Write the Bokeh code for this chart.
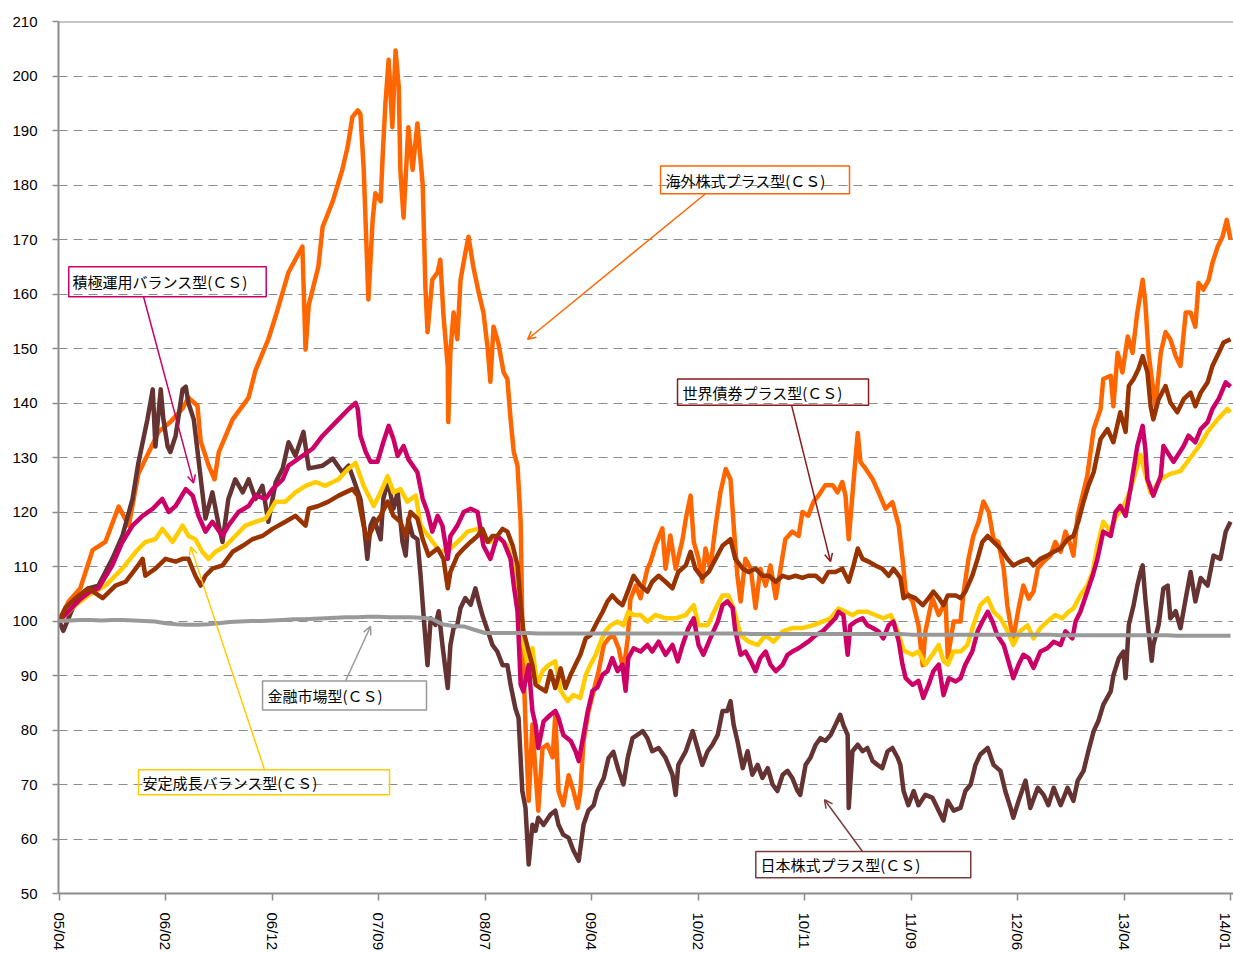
from bokeh.plotting import figure
from bokeh.models import Range1d, FixedTicker, Span, BoxAnnotation, Label, Arrow, OpenHead
from bokeh.embed import file_html
from bokeh.resources import INLINE

# ---------------- data ----------------
tick_labels = ["05/04", "06/02", "06/12", "07/09", "08/07", "09/04",
               "10/02", "10/11", "11/09", "12/06", "13/04", "14/01"]
tick_days = [0, 200, 400, 600, 800, 1000, 1200, 1400, 1600, 1800, 2000, 2200]

# business-day index of regular samples (every 20 trading days)
day = list(range(0, 2201, 20))

# 海外株式プラス型 : (trading day, value) read at irregular points
kaigai_day = [0, 18, 40, 63, 87, 112, 131, 149, 187, 209, 232, 243, 260, 266, 281, 292, 300,
              326, 356, 369, 393, 407, 431, 457, 463, 469, 487, 495, 514, 532, 542, 551, 561,
              566, 572, 581, 589, 594, 604, 608, 613, 619, 626, 632, 638, 641, 647, 656, 664,
              673, 683, 688, 692, 701, 711, 716, 722, 730, 731, 735, 741, 748, 754, 763, 769,
              778, 788, 797, 805, 810, 816, 825, 835, 842, 848, 854, 861, 867, 870, 876, 882,
              889, 895, 900, 908, 917, 927, 932, 938, 947, 957, 966, 974, 979, 985, 994, 1004,
              1013, 1023, 1032, 1041, 1051, 1060, 1068, 1073, 1083, 1092, 1105, 1111, 1120,
              1133, 1139, 1148, 1158, 1171, 1177, 1186, 1192, 1201, 1208, 1214, 1223, 1233,
              1242, 1252, 1261, 1267, 1274, 1280, 1289, 1299, 1308, 1317, 1327, 1336, 1346,
              1355, 1364, 1377, 1389, 1396, 1407, 1417, 1426, 1439, 1453, 1462, 1471, 1477,
              1483, 1492, 1500, 1505, 1515, 1528, 1539, 1552, 1565, 1577, 1584, 1590, 1603,
              1614, 1622, 1627, 1640, 1652, 1665, 1669, 1680, 1693, 1699, 1708, 1717, 1727,
              1736, 1746, 1755, 1764, 1774, 1781, 1787, 1792, 1802, 1811, 1821, 1830, 1838,
              1849, 1862, 1871, 1881, 1890, 1900, 1905, 1913, 1922, 1931, 1943, 1956, 1961,
              1975, 1980, 1988, 1997, 2007, 2016, 2025, 2035, 2040, 2046, 2054, 2059, 2069,
              2078, 2087, 2097, 2106, 2116, 2125, 2134, 2140, 2149, 2159, 2166, 2176, 2185,
              2193, 2200]
kaigai = [100, 103.6, 106, 113, 114.5, 121, 117.5, 127, 134.7, 136.5, 139, 141, 139.5, 133,
          128.5, 126, 131, 137, 141, 146, 151.7, 156, 164, 168.7, 149.8, 158, 165, 172.3, 177,
          182.8, 187, 192.5, 193.7, 193, 183.3, 159, 173.6, 178.5, 177, 185.8, 195, 203, 190.6,
          204.7, 198, 182.7, 174, 190.6, 182.8, 191.3, 180, 161.4, 153, 162.6, 164, 166.3,
          156, 146.7, 136.5, 149.5, 156.6, 151.7, 162.6, 167.5, 170.5, 165, 160.3, 156.6, 150,
          143.9, 154, 151, 145.6, 144.4, 137, 131, 128.5, 118, 99, 80.9, 67, 81, 72, 65.2,
          76.7, 77.3, 75, 82.8, 68.8, 66.2, 71.7, 68.8, 65.7, 68.8, 77.9, 83.3, 87.2, 90.7,
          95.6, 96.8, 97.4, 95, 90.8, 96.8, 104, 106.5, 104.2, 109.6, 110.9, 113.8, 117, 109.6,
          115.7, 109.6, 115, 118.7, 123, 114.5, 111.4, 107.2, 113.3, 109.6, 117.5, 123.6, 127.9,
          126, 117.5, 108.3, 103.6, 111.4, 109.6, 102.4, 109.6, 106.5, 110.2, 104.2, 109.6,
          115, 116.4, 115.6, 120, 119.3, 121.9, 123, 124.9, 124.9, 123.6, 125.5, 123, 115,
          125.5, 134.5, 129.2, 127.9, 126, 123.6, 120.6, 121.8, 117.5, 111.4, 105.4, 103.6,
          99.2, 91.9, 98.1, 104.2, 101.1, 103.6, 93.3, 99.9, 99.9, 105.4, 111.4, 115.6, 118.2,
          121.9, 120, 115, 114.5, 109.6, 102.8, 99.2, 96.8, 102.3, 106.5, 104.1, 105.4, 109.6,
          110.9, 112, 114.5, 112.7, 116.4, 113.8, 112, 119.3, 123, 126.6, 135.2, 138.9, 144.4,
          145, 139.4, 149.2, 145.6, 152.2, 149.2, 156.6, 162.6, 158.4, 149.2, 143.1, 139.4,
          149.2, 153, 151.7, 148.6, 146.8, 156.6, 156.6, 154, 162, 160.8, 162.6, 165.7, 168.7,
          170.5, 173.6, 170]

# 日本株式プラス型 : (trading day, value) read at irregular points
nihon_day = [0, 8, 31, 55, 74, 100, 119, 138, 149, 166, 176, 181, 191, 196, 204, 209, 219,
             232, 238, 243, 253, 275, 288, 300, 307, 318, 331, 345, 356, 369, 382, 393, 407,
             420, 431, 444, 459, 469, 495, 514, 532, 544, 553, 566, 572, 579, 585, 591, 604,
             609, 617, 622, 628, 636, 645, 651, 656, 664, 673, 679, 685, 692, 698, 707, 713,
             720, 730, 735, 741, 748, 754, 763, 773, 782, 788, 795, 805, 814, 823, 833, 842,
             848, 857, 863, 870, 876, 882, 889, 895, 900, 910, 923, 932, 938, 947, 957, 966,
             976, 985, 994, 1004, 1011, 1023, 1032, 1041, 1051, 1060, 1068, 1077, 1086, 1096,
             1105, 1114, 1126, 1139, 1152, 1158, 1163, 1177, 1190, 1199, 1208, 1218, 1227,
             1237, 1246, 1255, 1261, 1267, 1274, 1284, 1293, 1302, 1312, 1321, 1331, 1340,
             1349, 1359, 1368, 1377, 1387, 1392, 1402, 1411, 1421, 1430, 1439, 1449, 1458,
             1467, 1473, 1481, 1483, 1490, 1500, 1509, 1518, 1528, 1537, 1546, 1556, 1565,
             1575, 1580, 1586, 1595, 1605, 1614, 1627, 1640, 1652, 1661, 1669, 1680, 1693,
             1702, 1712, 1721, 1730, 1744, 1755, 1768, 1777, 1787, 1792, 1802, 1815, 1824,
             1838, 1849, 1858, 1868, 1881, 1894, 1905, 1913, 1924, 1933, 1943, 1952, 1961,
             1975, 1980, 1990, 1999, 2003, 2009, 2018, 2025, 2031, 2035, 2040, 2046, 2052,
             2055, 2065, 2074, 2082, 2087, 2097, 2106, 2116, 2125, 2134, 2144, 2157, 2168,
             2181, 2191, 2200]
nihon = [100, 98.2, 103.6, 106, 106.5, 111.4, 115.6, 122.4, 129, 137, 142.5, 132, 142.5, 137,
         132, 131, 134, 142.5, 143, 140, 137, 118.8, 123.6, 117.5, 114.5, 122.4, 126, 123.6,
         126, 122.4, 124.8, 118.2, 125.5, 128, 132.8, 130.3, 134.7, 128, 128.5, 129.8, 127.3,
         128.5, 126, 122.4, 118.2, 111.4, 117.5, 118.8, 115, 122.4, 125.5, 123.6, 120.6,
         123.6, 114.5, 112, 118.8, 115.6, 115, 108.3, 100.5, 91.9, 100.5, 99.3, 101.8, 95.6,
         87.7, 95.6, 98.7, 99.3, 102.4, 104.2, 103, 106, 103.6, 101.1, 98.2, 95.6, 94.4, 91.9,
         91.9, 88.3, 84, 82.2, 68.8, 65.7, 55.3, 62.6, 61.5, 63.9, 62.6, 64.5, 65.2, 62.6,
         60.8, 60.2, 57.9, 56, 62.6, 65.2, 66.2, 68.8, 71.2, 74.9, 76, 72.5, 70, 74.9, 78.5,
         79.1, 79.8, 78.5, 76.1, 76.7, 74.9, 71.8, 68.1, 73.6, 76.1, 79.8, 76.7, 73.6, 76.1,
         77.3, 79.1, 83.5, 83.5, 85.3, 80.9, 78, 73, 76.1, 71.8, 73.6, 71.2, 73, 70, 68.8,
         71.8, 72.5, 71.2, 68.8, 68.1, 73.6, 74.9, 77.3, 78.5, 78, 79.1, 80.9, 82.8, 80.9,
         79.1, 65.7, 76.1, 77.3, 76.1, 76.7, 74.3, 73.6, 73, 76.1, 76.7, 74.9, 73.6, 68.8,
         66.2, 68.8, 66.2, 68.1, 67.6, 65.2, 63.4, 67, 65.2, 65.7, 68.8, 70, 73.6, 75.5, 76.7,
         73.6, 72.5, 68.8, 65.7, 63.9, 67, 70.7, 65.7, 69.4, 68.1, 66.2, 69.4, 66.2, 69.4, 67,
         70.7, 72.5, 76.1, 79.8, 81.7, 84.6, 87.1, 90, 93.1, 94.4, 89.5, 99.3, 102.9, 106.5,
         109, 110.2, 104.2, 98.2, 92.7, 95.6, 99.3, 106, 106.5, 100.5, 101.8, 98.7, 104.2,
         109, 103.6, 107.9, 106.5, 112, 111.4, 116.4, 118.2]

# 積極運用バランス型 : (trading day, value) read at irregular points
sekkyoku_day = [0, 20, 40, 60, 74, 100, 119, 138, 157, 176, 194, 206, 219, 238, 251, 262,
                275, 288, 307, 318, 337, 356, 369, 388, 401, 420, 431, 476, 495, 525, 544,
                557, 561, 566, 576, 585, 598, 609, 619, 628, 636, 647, 656, 673, 683, 692,
                701, 711, 720, 730, 735, 748, 760, 773, 786, 797, 810, 823, 835, 848, 854,
                861, 867, 872, 882, 889, 895, 900, 910, 923, 932, 938, 947, 961, 970, 976,
                985, 993, 1002, 1011, 1021, 1030, 1039, 1049, 1058, 1064, 1069, 1079, 1092,
                1105, 1114, 1126, 1139, 1152, 1162, 1171, 1182, 1192, 1201, 1210, 1223, 1237,
                1246, 1255, 1265, 1270, 1280, 1289, 1299, 1308, 1317, 1327, 1336, 1346, 1359,
                1368, 1377, 1389, 1398, 1407, 1421, 1434, 1445, 1458, 1464, 1473, 1481, 1486,
                1496, 1509, 1518, 1528, 1539, 1548, 1558, 1567, 1577, 1584, 1590, 1603, 1614,
                1623, 1633, 1642, 1652, 1661, 1671, 1684, 1693, 1702, 1715, 1725, 1734, 1744,
                1753, 1762, 1774, 1783, 1792, 1802, 1811, 1821, 1830, 1843, 1856, 1868, 1881,
                1890, 1903, 1909, 1918, 1931, 1941, 1950, 1961, 1975, 1984, 1993, 2003, 2012,
                2025, 2035, 2040, 2044, 2055, 2069, 2074, 2093, 2112, 2121, 2134, 2144, 2157,
                2166, 2178, 2191, 2200]
sekkyoku = [100, 102, 104, 105.5, 106, 110.2, 114.5, 117.5, 119.3, 120.6, 122.4, 120, 121.1,
            124.2, 123, 119.3, 116.4, 118.2, 115.6, 117.5, 120, 121.1, 123, 122.4, 124.2, 126,
            128.5, 131.6, 134, 137, 138.9, 140, 138.9, 134, 131, 129.2, 129.2, 132.8, 135.8,
            133.4, 130.3, 132.1, 129.7, 127.3, 122.4, 120, 116.4, 119.3, 117.5, 111.4, 115.6,
            117.5, 120, 120.6, 120, 113.8, 111.4, 115.6, 114.5, 111.4, 106.5, 101.8, 88.3,
            87.1, 91.9, 83.5, 80.9, 76.7, 81.6, 82.8, 83.5, 82.2, 79.1, 78, 76.1, 74.3, 79.1,
            83.5, 87.2, 87.8, 90.2, 90.8, 93.2, 90.8, 92, 87.2, 93.2, 95, 94.4, 95.6, 94.4,
            96.2, 93.8, 95.6, 92.6, 95.6, 98.7, 100.5, 95.6, 93.8, 96.8, 99.9, 102.9, 103.6,
            102.4, 98.2, 93.8, 94.4, 92.6, 90.8, 93.2, 94.4, 92, 90.8, 92, 93.8, 94.4, 95,
            95.6, 96.2, 97.4, 98.1, 99.2, 100.5, 101.7, 101.1, 93.8, 99.2, 99.9, 100.5, 99.2,
            98.7, 98.1, 96.8, 99.2, 99.9, 96.2, 92, 89.5, 88.3, 89, 85.9, 88.3, 90.8, 92, 86.4,
            89.5, 88.9, 89.5, 92, 94.4, 98.1, 99.9, 101.7, 99.9, 97.4, 95.6, 92.6, 89.5, 92,
            93.8, 93.2, 91.4, 94.4, 95, 96.2, 95.6, 98.1, 96.8, 99.9, 101.7, 105.4, 108.3,
            111.4, 116.4, 115.6, 120, 121.1, 119.3, 124.2, 132.1, 135.8, 131.6, 126, 123,
            126.6, 132.1, 129.2, 132.1, 134, 132.8, 135.2, 136.5, 138.9, 140.8, 143.8, 143]

# 安定成長バランス型 : (trading day, value) read at irregular points
antei_day = [0, 31, 55, 87, 119, 144, 162, 181, 194, 213, 232, 243, 256, 269, 281, 294, 313,
             331, 350, 369, 388, 407, 425, 444, 463, 482, 500, 525, 544, 557, 572, 591, 604,
             617, 628, 641, 654, 670, 679, 698, 716, 735, 754, 767, 786, 797, 810, 823, 842,
             854, 861, 870, 880, 889, 898, 908, 919, 932, 942, 955, 966, 979, 989, 998, 1008,
             1017, 1026, 1036, 1049, 1060, 1069, 1079, 1092, 1105, 1120, 1139, 1158, 1177,
             1192, 1201, 1218, 1233, 1246, 1257, 1267, 1280, 1295, 1312, 1327, 1342, 1359,
             1377, 1396, 1415, 1434, 1449, 1464, 1477, 1490, 1501, 1518, 1533, 1548, 1562,
             1575, 1586, 1603, 1614, 1627, 1640, 1652, 1661, 1669, 1680, 1693, 1706, 1717,
             1730, 1744, 1755, 1768, 1781, 1792, 1806, 1819, 1830, 1843, 1856, 1871, 1884,
             1896, 1905, 1918, 1931, 1941, 1950, 1961, 1975, 1984, 1999, 2012, 2031, 2040,
             2050, 2069, 2087, 2106, 2125, 2144, 2157, 2176, 2194, 2200]
antei = [100, 102.9, 104.7, 106.5, 109.6, 112.7, 114.5, 115, 116.9, 114.5, 117.5, 115.6, 115,
         112.7, 111.4, 112.7, 113.8, 115.6, 117.5, 118.2, 118.8, 121.9, 121.9, 123.6, 124.8,
         125.5, 124.8, 126, 128, 129, 124.8, 121.1, 123.6, 126.6, 123.6, 124.2, 121.9, 123,
         117.5, 115, 112.7, 113.3, 115, 116.4, 116.9, 115, 114.5, 115.6, 113.8, 109.6, 103.6,
         96.8, 91.9, 95, 88.3, 90.8, 91.9, 92.6, 87.2, 85.3, 86.4, 85.9, 90, 92, 93.8, 96.2,
         98.1, 99.2, 99.9, 99.2, 101.7, 101.1, 101.1, 99.9, 101.1, 100.5, 100.5, 101.1, 102.9,
         99.2, 99.2, 102.3, 104.7, 104.7, 102.3, 97.4, 96.2, 95.6, 97.4, 96.2, 98.1, 98.7,
         98.7, 99.2, 99.9, 100.5, 102.3, 101.7, 101.1, 101.7, 101.7, 101.1, 100.5, 101.1,
         98.2, 94.6, 93.8, 94.4, 92, 93.8, 95.6, 92.7, 92, 94.4, 94.4, 95.6, 99.2, 102.9,
         104.2, 101.7, 100.5, 98.2, 95.6, 98.2, 99.2, 96.8, 98.7, 99.9, 101.1, 100.5, 101.7,
         102.3, 104.7, 106.5, 109, 113.8, 118.2, 116.4, 119, 121, 124, 130.5, 127, 123.5, 126,
         127, 127.5, 130, 132.5, 134.7, 137, 138.9, 138.3]

# 世界債券プラス型 : (trading day, value) read at irregular points
sekai_day = [0, 12, 31, 55, 82, 106, 125, 144, 157, 162, 181, 200, 219, 232, 243, 256, 266,
             275, 288, 307, 326, 345, 363, 382, 401, 425, 444, 463, 469, 487, 506, 525, 538,
             551, 561, 572, 579, 591, 604, 617, 628, 641, 651, 660, 673, 683, 694, 711, 722,
             730, 735, 748, 760, 773, 786, 795, 805, 814, 823, 833, 842, 852, 861, 867, 872,
             882, 889, 895, 904, 914, 923, 932, 942, 951, 961, 970, 979, 989, 998, 1011, 1021,
             1030, 1039, 1049, 1058, 1068, 1079, 1092, 1105, 1114, 1126, 1139, 1152, 1163,
             1177, 1186, 1195, 1208, 1220, 1233, 1246, 1261, 1270, 1284, 1295, 1308, 1321,
             1333, 1346, 1359, 1370, 1383, 1396, 1407, 1421, 1434, 1445, 1458, 1471, 1483,
             1492, 1500, 1509, 1520, 1533, 1546, 1558, 1567, 1580, 1586, 1595, 1608, 1622,
             1633, 1642, 1652, 1661, 1669, 1684, 1693, 1702, 1715, 1725, 1734, 1744, 1755,
             1768, 1781, 1792, 1806, 1819, 1830, 1843, 1856, 1868, 1881, 1894, 1905, 1914,
             1924, 1933, 1943, 1956, 1969, 1980, 1993, 2003, 2009, 2018, 2027, 2035, 2044,
             2050, 2055, 2065, 2078, 2087, 2100, 2112, 2125, 2134, 2144, 2157, 2166, 2178,
             2187, 2200]
sekai = [100, 102.4, 104.2, 106, 104.2, 106.5, 107.2, 109.6, 111.4, 108.3, 109.6, 111.4,
         110.9, 111.4, 111.4, 108.3, 106.5, 108.3, 109.6, 110.2, 112.7, 113.8, 115, 115.6,
         116.9, 118.2, 119.3, 117.5, 120.6, 121.1, 121.9, 123, 123.6, 124.2, 123, 117.5, 115,
         117.5, 119.3, 121.9, 119.3, 118.2, 115.6, 120, 118.8, 115, 112, 113.3, 111.4, 106,
         109, 112, 113.3, 114.5, 115.6, 116.9, 114.5, 115.6, 115.6, 116.9, 116.4, 113.8,
         110.2, 102.9, 98.2, 94.4, 91.9, 88.3, 87.7, 87.1, 90.8, 87.7, 91.3, 87.7, 90.2, 92,
         93.8, 96.8, 97.4, 99.9, 101.7, 103.6, 104.7, 103.6, 102.9, 105.4, 108.3, 106.5,
         105.4, 107.2, 108.3, 107.2, 106, 109, 110.2, 112.7, 109.6, 107.9, 109, 111.4, 113.8,
         115, 111.4, 109.6, 109, 109.6, 108.3, 108.3, 107.2, 108.3, 107.9, 108.3, 107.9,
         108.3, 108.3, 107.2, 109, 109, 109.6, 107.2, 110.2, 113.3, 111.4, 110.9, 110.2,
         109.6, 108.3, 109.6, 107.9, 104.2, 104.7, 104.2, 102.9, 104.2, 105.4, 104.2, 102.9,
         104.7, 104.7, 104.2, 105.4, 108.3, 111.4, 114.5, 115.6, 114.5, 113.3, 111.4, 110.2,
         110.9, 111.4, 110.2, 111.4, 112, 112.7, 113.3, 115, 115.6, 118.2, 121.9, 124.8,
         127.3, 133.4, 135.2, 132.8, 138.3, 134.7, 143.1, 144.4, 146.2, 148.6, 145.6, 139.4,
         137, 140.7, 143.1, 140.1, 138.3, 140.7, 141.9, 139.4, 141.9, 143.8, 146.8, 149.2,
         151.1, 151.7]

kinyu = [100, 100.1, 100.2, 100.2, 100.1, 100.2, 100.2, 100.1, 100.0, 99.9,
         99.6, 99.4, 99.3, 99.3, 99.4, 99.6, 99.8, 99.9, 100.0, 100.0,
         100.1, 100.2, 100.3, 100.3, 100.4, 100.5, 100.6, 100.7, 100.7, 100.8,
         100.8, 100.7, 100.7, 100.7, 100.6, 100.4, 99.4, 99.1, 99.0, 98.4,
         97.8, 97.8, 97.8, 97.8, 97.8, 97.7, 97.7, 97.7, 97.7, 97.7,
         97.7, 97.7, 97.7, 97.7, 97.7, 97.7, 97.7, 97.7, 97.7, 97.7,
         97.7, 97.7, 97.7, 97.7, 97.7, 97.6, 97.6, 97.6, 97.6, 97.6,
         97.6, 97.6, 97.6, 97.6, 97.6, 97.6, 97.6, 97.6, 97.6, 97.6,
         97.5, 97.5, 97.5, 97.5, 97.5, 97.5, 97.5, 97.5, 97.5, 97.5,
         97.5, 97.5, 97.5, 97.5, 97.4, 97.4, 97.4, 97.4, 97.4, 97.4,
         97.4, 97.4, 97.4, 97.4, 97.4, 97.3, 97.3, 97.3, 97.3, 97.3,
         97.3]

names = {
    "kaigai": "海外株式プラス型(ＣＳ)",
    "sekkyoku": "積極運用バランス型(ＣＳ)",
    "sekai": "世界債券プラス型(ＣＳ)",
    "kinyu": "金融市場型(ＣＳ)",
    "antei": "安定成長バランス型(ＣＳ)",
    "nihon": "日本株式プラス型(ＣＳ)",
}

# ---------------- figure ----------------
GRID = "#8c8c8c"
p = figure(width=1233, height=953, output_backend="svg", toolbar_location=None,
           x_range=Range1d(-1, 2205.6), y_range=Range1d(50, 210),
           min_border_left=58, min_border_right=0, min_border_top=21,
           min_border_bottom=57)
p.outline_line_color = None
p.background_fill_color = "white"
p.border_fill_color = "white"

p.xgrid.visible = False
p.ygrid.grid_line_color = GRID
p.ygrid.grid_line_dash = "9 6"
p.ygrid.grid_line_width = 1

p.yaxis.ticker = FixedTicker(ticks=list(range(50, 211, 10)))
p.xaxis.ticker = FixedTicker(ticks=tick_days)
p.xaxis.major_label_overrides = {d: t for d, t in zip(tick_days, tick_labels)}
p.xaxis.major_label_orientation = "vertical"

for ax in (p.xaxis, p.yaxis):
    ax.axis_line_color = GRID
    ax.axis_line_width = 2
    ax.major_tick_line_color = GRID
    ax.major_tick_line_width = 1.5
    ax.major_tick_in = 0
    ax.minor_tick_line_color = None
    ax.major_label_text_font = "Liberation Sans"
    ax.major_label_text_font_size = "15px"
    ax.major_label_text_color = "#000000"
p.yaxis.major_tick_out = 6
p.yaxis.major_label_standoff = 15
p.xaxis.major_tick_out = 7
p.xaxis.major_label_standoff = 12

p.add_layout(Span(location=210, dimension="width", line_color=GRID, line_width=2))

# ---------------- series ----------------
p.line(kaigai_day, kaigai, line_color="#FF6600", line_width=4.5, line_join="round")
p.line(nihon_day, nihon, line_color="#663333", line_width=4.5, line_join="round")
p.line(antei_day, antei, line_color="#FFCC00", line_width=4.5, line_join="round")
p.line(sekkyoku_day, sekkyoku, line_color="#CC0066", line_width=4.5, line_join="round")
p.line(sekai_day, sekai, line_color="#993300", line_width=4.5, line_join="round")
p.line(day, kinyu, line_color="#999999", line_width=4, line_join="round")

# ---------------- callouts ----------------
callouts = [
    # key, color, box(left,right,top,bottom), text(x,y), arrow(x0,y0,x1,y1)
    ("kaigai", "#FF6600", (1129.6, 1484.5, 183.5, 178.4), (1139, 180.9), (1214, 178.4, 880, 151.7)),
    ("sekkyoku", "#CC0066", (18.2, 389.1, 165.0, 159.5), (25.4, 162.3), (158.7, 159.5, 252.6, 125.3)),
    ("sekai", "#8B1A1A", (1161.5, 1520.2, 144.4, 139.6), (1170.9, 142.0), (1375.6, 139.6, 1448.8, 110.9)),
    ("kinyu", "#999999", (382.2, 690.1, 89.0, 83.65), (391.5, 86.4), (538, 89.0, 585, 99.0)),
    ("antei", "#FFCC00", (149.3, 620.7, 72.7, 68.1), (156.8, 70.3), (385.9, 72.7, 247.3, 113.6)),
    ("nihon", "#7A3B3B", (1308.5, 1712.2, 57.7, 52.9), (1317.4, 55.3), (1508.9, 57.7, 1437.6, 67.2)),
]
for key, col, (l, r, t, b), (tx, ty), (x0, y0, x1, y1) in callouts:
    p.add_layout(BoxAnnotation(left=l, right=r, top=t, bottom=b,
                               fill_color=None, fill_alpha=0,
                               line_color=col, line_alpha=1.0, line_width=1.5))
    p.add_layout(Label(x=tx, y=ty, text=names[key], text_font="Noto Sans CJK JP",
                       text_font_size="15px", text_color="#000000",
                       text_baseline="middle", text_align="left"))
    p.add_layout(Arrow(end=OpenHead(line_color=col, line_width=1.5, size=8),
                       x_start=x0, y_start=y0, x_end=x1, y_end=y1,
                       line_color=col, line_width=1.5))

open("out.html", "w").write(file_html(p, INLINE))
